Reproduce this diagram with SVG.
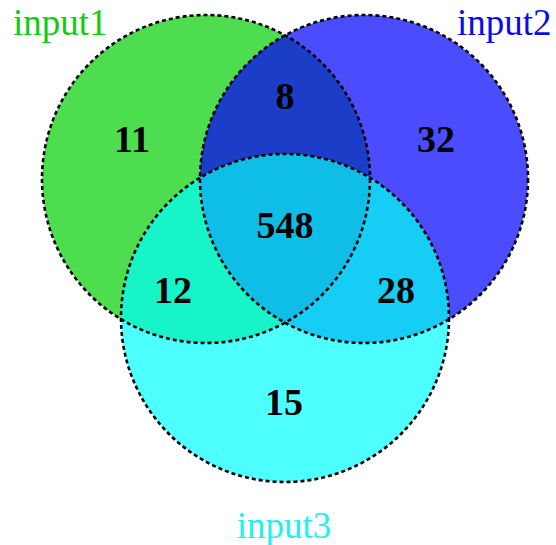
<svg xmlns="http://www.w3.org/2000/svg" width="556" height="545" viewBox="0 0 556 545">
  <style>
    .outline { fill: none; stroke: #000; stroke-width: 2.6; stroke-dasharray: 4 3; }
    .count { font-family: "Liberation Serif", "Times New Roman", serif; font-weight: bold; font-size: 38px; fill: #000; text-anchor: middle; }
    .setname { font-family: "Liberation Serif", "Times New Roman", serif; font-size: 37px; }
  </style>
  <defs>
    <circle id="c1" cx="206" cy="179" r="164"/>
    <circle id="c2" cx="364" cy="179" r="164"/>
    <circle id="c3" cx="285" cy="318" r="164"/>
    <clipPath id="in1"><use href="#c1"/></clipPath>
    <clipPath id="in2"><use href="#c2"/></clipPath>
    <clipPath id="in3"><use href="#c3"/></clipPath>
  </defs>

  <rect width="556" height="545" fill="#ffffff"/>

  <!-- set regions -->
  <g id="regions">
    <use href="#c1" fill="#4edd4e"/>
    <use href="#c2" fill="#4c4cff"/>
    <use href="#c2" fill="#1b3dc8" clip-path="url(#in1)"/>
    <use href="#c3" fill="#4dffff"/>
    <use href="#c3" fill="#16f4c8" clip-path="url(#in1)"/>
    <use href="#c3" fill="#15cdf5" clip-path="url(#in2)"/>
    <g clip-path="url(#in1)">
      <use href="#c3" fill="#0ebee6" clip-path="url(#in2)"/>
    </g>
  </g>

  <!-- dashed circle outlines -->
  <g id="outlines">
    <use href="#c1" class="outline"/>
    <use href="#c2" class="outline"/>
    <use href="#c3" class="outline"/>
  </g>

  <!-- set names -->
  <g id="input1"><text class="setname" x="13" y="35" fill="#11cc11">input1</text></g>
  <g id="input2"><text class="setname" x="457" y="35" fill="#0a0aee">input2</text></g>
  <g id="input3"><text class="setname" x="284" y="538" fill="#22f0f0" text-anchor="middle">input3</text></g>

  <!-- region counts -->
  <g id="counts">
    <text class="count" x="132" y="152">11</text>
    <text class="count" x="285" y="109">8</text>
    <text class="count" x="436" y="152">32</text>
    <text class="count" x="285" y="238">548</text>
    <text class="count" x="173" y="303">12</text>
    <text class="count" x="396" y="303">28</text>
    <text class="count" x="284" y="415">15</text>
  </g>
</svg>
